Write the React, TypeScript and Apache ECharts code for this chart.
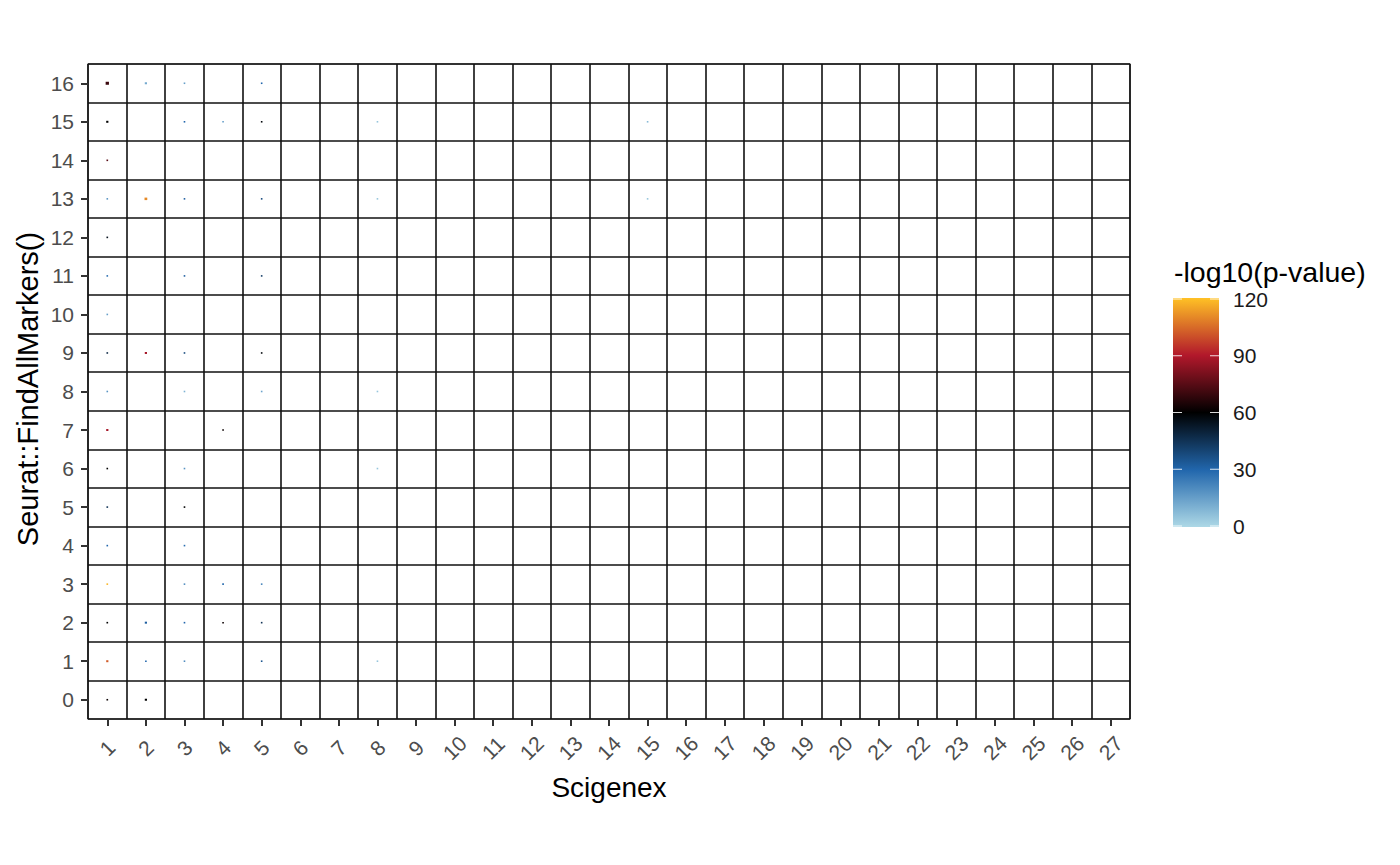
import React, { useEffect, useRef } from "react";
import * as echarts from "echarts";

const xCategories = Array.from({ length: 27 }, (_, i) => String(i + 1));
const yCategories = Array.from({ length: 17 }, (_, i) => String(i));

// Dots: Scigenex cluster, FindAllMarkers cluster, -log10(p-value), dot weight
const dotX = [1,2,3,5, 1,3,4,5,8,15, 1, 1,2,3,5,8,15, 1, 1,3,5, 1, 1,2,3,5, 1,3,5,8, 1,4, 1,3,8, 1,3, 1,3, 1,3,4,5, 1,2,3,4,5, 1,2,3,5,8, 1,2];
const dotY = [16,16,16,16, 15,15,15,15,15,15, 14, 13,13,13,13,13,13, 12, 11,11,11, 10, 9,9,9,9, 8,8,8,8, 7,7, 6,6,6, 5,5, 4,4, 3,3,3,3, 2,2,2,2,2, 1,1,1,1,1, 0,0];
const dotP = [70,12,15,30, 60,30,15,58,5,8, 75, 18,110,32,38,5,5, 55, 28,32,42, 15, 48,88,38,58, 18,10,14,5, 88,62, 60,18,5, 45,60, 30,28, 118,20,30,22, 60,32,30,62,45, 102,30,20,35,5, 62,60];
const dotW = [3,2,1,1, 2,1,1,1,1,1, 1.5, 1,2.5,1,1,1,1, 1.5, 1,1,1, 1, 1.5,2,1,1, 1,1,1,1, 2,1.5, 1,1,1, 1.5,1, 1,1, 1.5,1,1,1, 1.5,2,1,1,1, 2,1,1,1,1, 1.5,2];

const legendTicks = [0, 30, 60, 90, 120];
const colorStops = ["#ADD8E6", "#2166AC", "#000000", "#B2182B", "#FFC125"];

const FONT = "Liberation Sans, Arial, Helvetica, sans-serif";

export default function App() {
  const ref = useRef<HTMLDivElement>(null);
  useEffect(() => {
    if (!ref.current) return;
    const chart = echarts.init(ref.current, null, { renderer: "svg" });
    const data = dotX.map((x, i) => [String(x), String(dotY[i]), dotP[i], dotW[i]]);

    const barX = 1173, barTop = 298, barW = 46, barH = 229;
    const vMax = legendTicks[legendTicks.length - 1];
    const tickY = (v: number) => barTop + barH - 1 - (v / vMax) * (barH - 2);

    const graphics: any[] = [
      {
        type: "text", x: 609, y: 787,
        style: { text: "Scigenex", fontSize: 28, fontFamily: FONT, fill: "#000", align: "center", verticalAlign: "middle" },
      },
      {
        type: "text", x: 28, y: 389, rotation: Math.PI / 2,
        style: { text: "Seurat::FindAllMarkers()", fontSize: 29, fontFamily: FONT, fill: "#000", align: "center", verticalAlign: "middle" },
      },
      {
        type: "text", x: 1174, y: 272,
        style: { text: "-log10(p-value)", fontSize: 28.5, fontFamily: FONT, fill: "#000", align: "left", verticalAlign: "middle" },
      },
      {
        type: "rect",
        shape: { x: barX, y: barTop, width: barW, height: barH },
        style: {
          fill: new echarts.graphic.LinearGradient(0, 1, 0, 0,
            colorStops.map((c, i) => ({ offset: i / (colorStops.length - 1), color: c }))),
        },
      },
    ];
    legendTicks.forEach((t) => {
      const y = tickY(t);
      graphics.push({ type: "line", shape: { x1: barX, y1: y, x2: barX + 9, y2: y }, style: { stroke: "rgba(255,255,255,0.85)", lineWidth: 1 } });
      graphics.push({ type: "line", shape: { x1: barX + barW - 9, y1: y, x2: barX + barW, y2: y }, style: { stroke: "rgba(255,255,255,0.85)", lineWidth: 1 } });
      graphics.push({
        type: "text", x: 1233, y,
        style: { text: String(t), fontSize: 21, fontFamily: FONT, fill: "#1a1a1a", align: "left", verticalAlign: "middle" },
      });
    });

    chart.setOption({
      animation: false,
      backgroundColor: "#ffffff",
      grid: { left: 88, right: 270, top: 64, bottom: 146, show: true, borderColor: "#333", borderWidth: 1.2, backgroundColor: "#fff" },
      xAxis: {
        type: "category",
        data: xCategories,
        boundaryGap: true,
        axisLine: { show: false },
        axisTick: { show: true, alignWithLabel: true, length: 7, lineStyle: { color: "#333", width: 2 } },
        axisLabel: { rotate: 45, interval: 0, align: "center", verticalAlign: "middle", margin: 29, fontSize: 21, fontFamily: FONT, color: "#4D4D4D" },
        splitLine: { show: true, interval: 0, lineStyle: { color: "#111", width: 1.6 } },
      },
      yAxis: {
        type: "category",
        data: yCategories,
        boundaryGap: true,
        axisLine: { show: false },
        axisTick: { show: true, alignWithLabel: true, length: 7, lineStyle: { color: "#333", width: 2 } },
        axisLabel: { interval: 0, margin: 14, fontSize: 21, fontFamily: FONT, color: "#4D4D4D" },
        splitLine: { show: true, interval: 0, lineStyle: { color: "#111", width: 1.6 } },
      },
      visualMap: {
        show: false, type: "continuous", dimension: 2, min: 0, max: vMax,
        inRange: { color: colorStops },
      },
      series: [
        {
          type: "scatter",
          symbol: "rect",
          symbolSize: (v: any[]) => [Math.max(1.6, v[3] * 1.1), Math.max(1.6, v[3])],
          data,
          itemStyle: { opacity: 1 },
        },
      ],
      graphic: graphics,
    });
    return () => chart.dispose();
  }, []);
  return <div ref={ref} style={{ position: "fixed", left: 0, top: 0, width: 1400, height: 865, background: "#fff" }} />;
}
